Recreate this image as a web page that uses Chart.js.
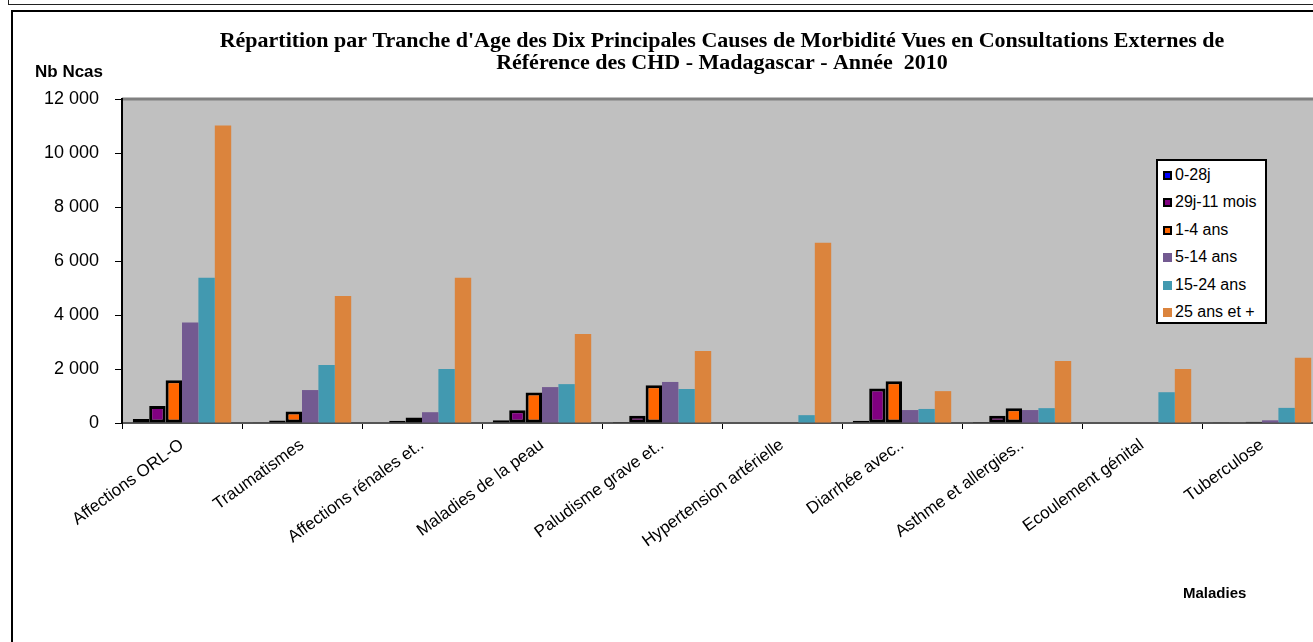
<!DOCTYPE html>
<html>
<head>
<meta charset="utf-8">
<script src="https://cdn.jsdelivr.net/npm/chart.js"></script>
<style>
  html, body { margin: 0; padding: 0; background: #fff; overflow: hidden; width: 1313px; height: 642px; }
  .frame-top { position: absolute; left: 8px; top: -10px; width: 1400px; height: 13px; border: 1.5px solid #222; }
  .frame { position: absolute; left: 11px; top: 10px; width: 1400px; height: 700px; border: 2px solid #000; }
  #wrap { position: absolute; left: 0; top: 0; width: 1432px; height: 642px; }
  .lbl { position: absolute; font-family: Arial, 'Liberation Sans', sans-serif; font-weight: bold; color: #000; white-space: nowrap; }
  #legend { position: absolute; left: 1156px; top: 159px; width: 107px; height: 161px; background: #fff; border: 2px solid #000;
            font-family: Arial, 'Liberation Sans', sans-serif; font-size: 16px; color: #000; }
  #legend .row { position: absolute; left: 5px; height: 18px; line-height: 18px; white-space: nowrap; }
  #legend .sw { display: inline-block; width: 9px; height: 9px; margin-right: 3px; vertical-align: 0px; box-sizing: border-box; }
</style>
</head>
<body>
<div class="frame-top"></div>
<div class="frame"></div>
<div id="wrap"><canvas id="chart"></canvas></div>
<div class="lbl" style="left:35px; top:62px; font-size:17px;">Nb Ncas</div>
<div class="lbl" style="left:1183px; top:584px; font-size:15px;">Maladies</div>
<div id="legend"></div>
<script>
var categories = ['Affections ORL-O', 'Traumatismes', 'Affections rénales et..', 'Maladies de la peau',
  'Paludisme grave et..', 'Hypertension artérielle', 'Diarrhée avec..', 'Asthme et allergies..',
  'Ecoulement génital', 'Tuberculose'];

var ageGroups = ['0-28j', '29j-11 mois', '1-4 ans', '5-14 ans', '15-24 ans', '25 ans et +'];

var age0_28j   = [150, 30, 20, 100, 40, 0, 80, 40, 0, 10];
var age29j_11m = [630, 90, 80, 470, 270, 0, 1280, 270, 0, 20];
var age1_4     = [1580, 430, 200, 1130, 1400, 0, 1550, 550, 0, 50];
var age5_14    = [3720, 1220, 400, 1330, 1520, 0, 480, 480, 20, 100];
var age15_24   = [5380, 2150, 2000, 1440, 1260, 290, 520, 550, 1140, 560];
var age25plus  = [11020, 4700, 5380, 3300, 2670, 6680, 1180, 2300, 2000, 2420];

var yTicks = [0, 2000, 4000, 6000, 8000, 10000, 12000];

var seriesValues = [age0_28j, age29j_11m, age1_4, age5_14, age15_24, age25plus];
var fillColors = ['#0000FF', '#800080', '#FF6600', '#735A91', '#4299B0', '#DB843D'];
var outlined = [true, true, true, false, false, false];

var datasets = ageGroups.map(function (g, i) {
  return {
    label: g,
    data: seriesValues[i],
    backgroundColor: fillColors[i],
    borderColor: '#000',
    borderWidth: outlined[i] ? 3 : 0,
    borderSkipped: false
  };
});

// legend inside the plot area
var leg = document.getElementById('legend');
ageGroups.forEach(function (g, i) {
  var row = document.createElement('div');
  row.className = 'row';
  row.style.top = (5 + i * 27.4) + 'px';
  var sw = document.createElement('span');
  sw.className = 'sw';
  sw.style.background = fillColors[i];
  if (outlined[i]) sw.style.border = '2.5px solid #000';
  row.appendChild(sw);
  row.appendChild(document.createTextNode(g));
  leg.appendChild(row);
});

var plotBg = {
  id: 'plotBg',
  beforeDraw: function (chart) {
    var a = chart.chartArea, c = chart.ctx;
    c.save();
    c.fillStyle = '#C0C0C0';
    c.fillRect(a.left, a.top, a.right - a.left, a.bottom - a.top);
    c.strokeStyle = '#808080';
    c.lineWidth = 3;
    c.beginPath();
    c.moveTo(a.left, a.top);
    c.lineTo(a.right, a.top);
    c.stroke();
    c.restore();
  }
};

var fmt = function (v) { return String(v).replace(/\B(?=(\d{3})+(?!\d))/g, ' '); };
var sans = "Arial, 'Liberation Sans', sans-serif";

var ctx = document.getElementById('chart').getContext('2d');
var chart = new Chart(ctx, {
  type: 'bar',
  data: { labels: categories, datasets: datasets },
  plugins: [plotBg],
  options: {
    responsive: true,
    maintainAspectRatio: false,
    animation: false,
    layout: { padding: { left: 0, right: 110, top: 0, bottom: 0 } },
    datasets: { bar: { categoryPercentage: 0.82, barPercentage: 1.0 } },
    plugins: {
      legend: { display: false },
      tooltip: { enabled: false },
      title: {
        display: true,
        fullSize: false,
        text: ["Répartition par Tranche d'Age des Dix Principales Causes de Morbidité Vues en Consultations Externes de",
               "Référence des CHD - Madagascar - Année  2010"],
        color: '#000',
        font: { family: "'Times New Roman', 'Liberation Serif', serif", size: 22, weight: 'bold', lineHeight: 1.0 },
        padding: { top: 30, bottom: 25 }
      }
    },
    scales: {
      x: {
        offset: true,
        grid: { offset: true, drawOnChartArea: false, drawTicks: true, tickLength: 6, color: '#000' },
        border: { color: '#555', width: 2 },
        ticks: {
          color: '#000', autoSkip: false, maxRotation: 36, minRotation: 36, padding: 6,
          font: { family: sans, size: 17 }
        },
        afterFit: function (s) { s.height = 219; }
      },
      y: {
        min: 0, max: 12000,
        afterBuildTicks: function (s) { s.ticks = yTicks.map(function (v) { return { value: v }; }); },
        grid: { drawOnChartArea: false, drawTicks: true, tickLength: 7, color: '#000' },
        border: { color: '#000', width: 2 },
        ticks: { color: '#000', padding: 16, font: { family: sans, size: 18 }, callback: function (v) { return fmt(v); } },
        afterFit: function (s) { s.width = 122; }
      }
    }
  }
});
</script>
</body>
</html>
